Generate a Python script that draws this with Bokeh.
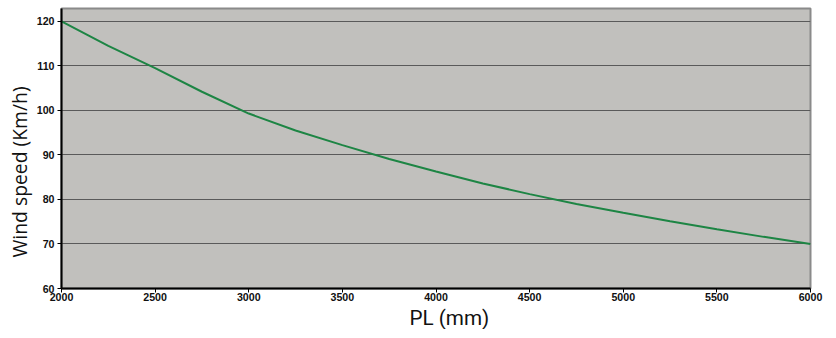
from bokeh.plotting import figure
from bokeh.embed import file_html
from bokeh.resources import INLINE
from bokeh.models import Range1d, FixedTicker, Title

pl_mm = [2000, 2250, 2500, 2750, 3000, 3250, 3500, 3750, 4000, 4250, 4500, 4750, 5000, 5250, 5500, 5750, 6000]
wind_kmh = [120, 114.5, 109.5, 104.2, 99.3, 95.5, 92.2, 89.1, 86.3, 83.6, 81.2, 79.0, 77.0, 75.1, 73.3, 71.6, 70.0]
x_ticks = [2000, 2500, 3000, 3500, 4000, 4500, 5000, 5500, 6000]
y_ticks = [60, 70, 80, 90, 100, 110, 120]
x_title = "PL (mm)"
y_title = "Wind speed (Km/h)"

p = figure(frame_width=749, frame_height=280, output_backend="svg", toolbar_location=None,
           x_range=Range1d(2000, 6000), y_range=Range1d(60, 122.9),
           min_border_left=61, min_border_right=20, min_border_top=8, min_border_bottom=5)
p.background_fill_color = "#c1c0bd"
p.border_fill_color = "white"
p.outline_line_color = "#8a8a8a"
p.outline_line_width = 2

p.line(pl_mm, wind_kmh, line_color="#1d8544", line_width=2)

p.xgrid.grid_line_color = None
p.ygrid.grid_line_color = "#5a5a5a"
p.ygrid.grid_line_width = 1
p.ygrid.ticker = FixedTicker(ticks=y_ticks)

p.xaxis.ticker = FixedTicker(ticks=x_ticks)
p.yaxis.ticker = FixedTicker(ticks=y_ticks)
for ax in (p.xaxis[0], p.yaxis[0]):
    ax.axis_line_color = "black"
    ax.axis_line_width = 2
    ax.major_tick_line_color = "black"
    ax.major_tick_out = 4
    ax.major_tick_in = 0
    ax.minor_tick_line_color = None
    ax.major_label_text_font = "Liberation Sans"
    ax.major_label_text_font_style = "bold"
    ax.major_label_text_font_size = "8pt"
    ax.major_label_text_color = "#111111"

p.xaxis.major_label_standoff = 0
p.yaxis.major_label_standoff = 3

p.add_layout(Title(text=y_title, align="left", offset=31, standoff=2,
                   text_font="Open Sans", text_font_size="14.5pt", text_font_style="normal",
                   text_color="#111111"), "left")
p.add_layout(Title(text=x_title, align="left", offset=348, standoff=0,
                   text_font="Roboto", text_font_size="15.5pt", text_font_style="normal",
                   text_color="#111111"), "below")

open("out.html", "w").write(file_html(p, INLINE))
